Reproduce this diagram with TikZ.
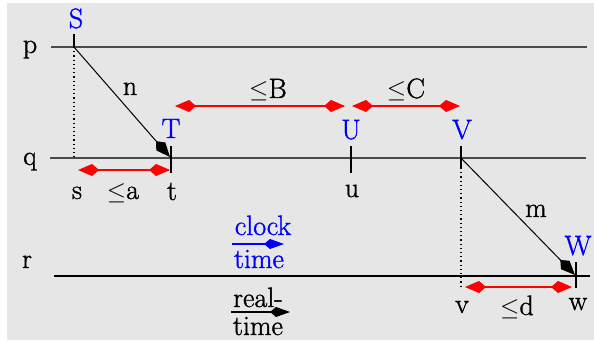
\documentclass[tikz,border=0pt]{standalone}
\usepackage{fontspec}
\newfontfamily\heavyrm{Latin Modern Roman}[FakeBold=1.2]
\usetikzlibrary{arrows.meta}
\definecolor{bgc}{HTML}{E6E6E6}
\definecolor{axisc}{HTML}{4A4A4A}
\definecolor{evblue}{HTML}{0000FF}
\definecolor{redc}{HTML}{FF0000}
\newcommand{\lee}{\ensuremath{\leq}}
\begin{document}
\begin{tikzpicture}[x=1pt,y=-1pt,
  font=\heavyrm\fontsize{28}{32}\selectfont,
  lbl/.style={anchor=base,inner sep=0pt},
  evlbl/.style={lbl,text=evblue},
  axisline/.style={draw=axisc,line width=1.5pt},
  tick/.style={draw=black,line width=1.1pt},
  dots/.style={draw=black,line width=1.2pt,dash pattern=on 1.2pt off 3pt},
  msg/.style={draw=black,line width=1pt,-{Kite[length=21pt,width=12pt,inset=7pt]}},
  bound/.style={draw=redc,line width=1.1pt,{Kite[length=21pt,width=12pt,inset=7pt]}-{Kite[length=21pt,width=12pt,inset=7pt]}},
  legend/.style={line width=1.1pt,-{Kite[length=20pt,width=10pt,inset=6pt]}}]
\useasboundingbox (0,0) rectangle (594,342);
\fill[bgc] (7,3) rectangle (594,340);
% process lines
\coordinate (p0) at (51,47);  \coordinate (p1) at (587,47);
\coordinate (q0) at (50,158); \coordinate (q1) at (586,158);
\coordinate (r0) at (54,276); \coordinate (r1) at (590,276);
\path[axisline] (p0) -- (p1);
\path[axisline] (q0) -- (q1);
\draw[black,line width=1.1pt] (r0) -- (r1);
\node[lbl] (lp) at (30,53) {p};
\node[lbl] (lq) at (30,165) {q};
\node[lbl] (lr) at (27,268) {r};
% events
\coordinate (S) at (74,47);   \coordinate (Stop) at (74,34);
\coordinate (sfoot) at (74,158);
\coordinate (T) at (171,158); \coordinate (Ttop) at (171,146); \coordinate (Tbot) at (171,173);
\coordinate (U) at (351,158); \coordinate (Utop) at (351,146); \coordinate (Ubot) at (351,173);
\coordinate (V) at (461,158); \coordinate (Vtop) at (461,146); \coordinate (Vbot) at (461,168);
\coordinate (vfoot) at (461,288);
\coordinate (W) at (576,276); \coordinate (Wtop) at (576,262); \coordinate (Wbot) at (576,288);
\path[tick] (Stop) -- (S);
\path[tick] (Ttop) -- (Tbot);
\path[tick] (Utop) -- (Ubot);
\path[tick] (Vtop) -- (Vbot);
\path[tick] (Wtop) -- (Wbot);
\path[dots] (S) -- (sfoot);
\path[dots] (Vbot) -- (vfoot);
% messages
\coordinate (Ttip) at (170,157);
\coordinate (Wtip) at (575,275);
\path[msg] (S) -- (Ttip);
\path[msg] (V) -- (Wtip);
\node[lbl] (ln) at (130,95) {n};
\node[lbl] (lm) at (536,217) {m};
% event labels
\node[evlbl] (lS) at (76,28) {S};
\node[evlbl] (lT) at (171,138) {T};
\node[evlbl] (lU) at (351,139) {U};
\node[evlbl] (lV) at (462,139) {V};
\node[evlbl] (lW) at (578,255) {W};
\node[lbl] (ls) at (77,199) {s};
\node[lbl] (lt) at (172,200) {t};
\node[lbl] (lu) at (352,197) {u};
\node[lbl] (lv) at (462,313) {v};
\node[lbl] (lw) at (578,310) {w};
% bounds
\coordinate (a0) at (78,170);  \coordinate (a1) at (170,170);
\coordinate (B0) at (175,106); \coordinate (B1) at (345,106);
\coordinate (C0) at (352,106); \coordinate (C1) at (460,106);
\coordinate (d0) at (465,287); \coordinate (d1) at (572,287);
\path[bound] (a0) -- (a1);
\path[bound] (B0) -- (B1);
\path[bound] (C0) -- (C1);
\path[bound] (d0) -- (d1);
\node[lbl] (la) at (123,199) {\lee a};
\node[lbl] (lB) at (268,98) {\lee B};
\node[lbl] (lC) at (406,98) {\lee C};
\node[lbl] (ld) at (517,315) {\lee d};
% legend
\node[evlbl] (clock) at (263,235) {clock};
\node[evlbl] (ctime) at (259,268) {time};
\coordinate (ca0) at (232,244); \coordinate (ca1) at (284,244);
\draw[legend,evblue] (ca0) -- (ca1);
\node[lbl] (real) at (258,307) {real-};
\node[lbl] (rtime) at (258,335) {time};
\coordinate (ra0) at (231,312); \coordinate (ra1) at (290,312);
\draw[legend,black] (ra0) -- (ra1);
\end{tikzpicture}
\end{document}
